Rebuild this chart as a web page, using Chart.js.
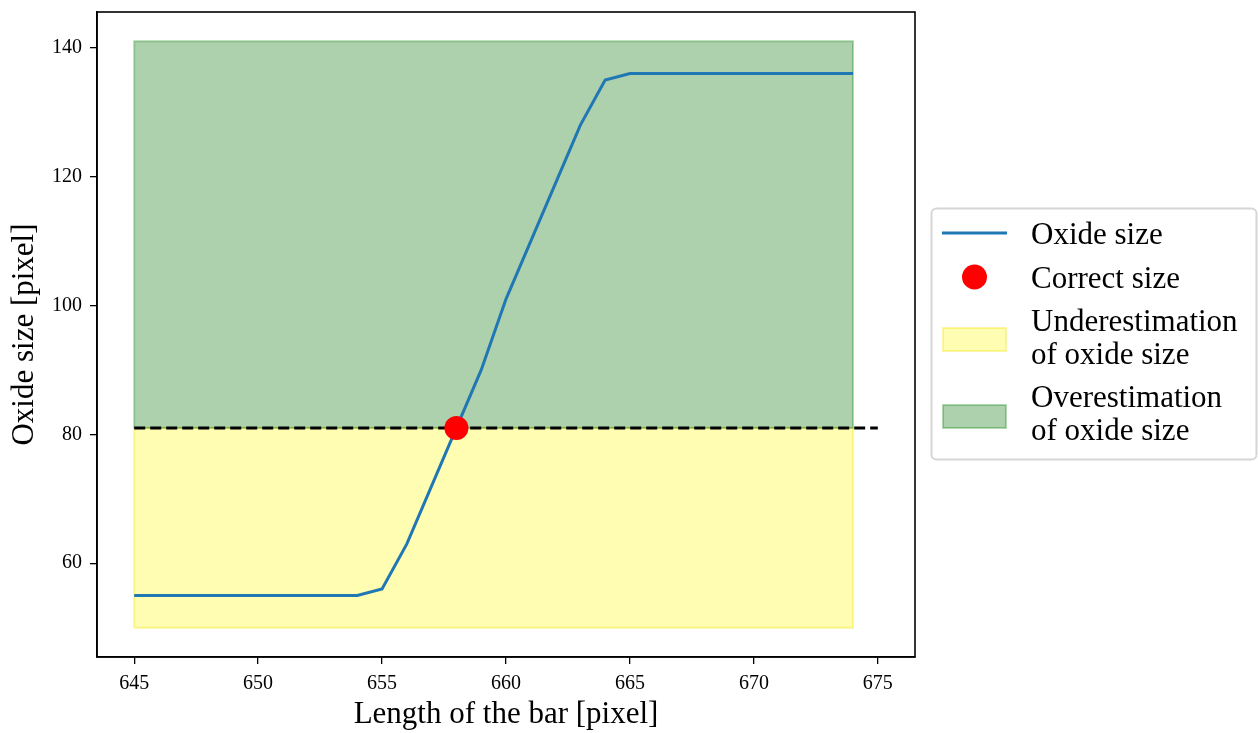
<!DOCTYPE html>
<html>
<head>
<meta charset="utf-8">
<script src="https://cdn.jsdelivr.net/npm/chart.js@4.4.0/dist/chart.umd.min.js"></script>
<style>
  html, body { margin: 0; padding: 0; background: #fff; }
  canvas { display: block; }
</style>
</head>
<body>
<canvas id="oxide" width="1258" height="733"></canvas>
<script>
// bar length sweep [pixel] and the measured oxide size for each
const barLength = [645, 646, 647, 648, 649, 650, 651, 652, 653, 654,
                   655, 656, 657, 658, 659, 660, 661, 662, 663, 664,
                   665, 666, 667, 668, 669, 670, 671, 672, 673, 674];
const oxideSize = [55, 55, 55, 55, 55, 55, 55, 55, 55, 55,
                   56, 63, 72, 81, 90, 101, 110, 119, 128, 135,
                   136, 136, 136, 136, 136, 136, 136, 136, 136, 136];

// reference size and where the curve crosses it
const correctLength = [658];
const correctSize = [81];
const refLength = [645, 675];
const refSize = [81, 81];

// shaded bands: [bottom, top] over bandLength
const bandLength = [645, 674];
const underBand = [50, 81];
const overBand = [81, 141];

const xTicks = [645, 650, 655, 660, 665, 670, 675];
const yTicks = [60, 80, 100, 120, 140];
const xRange = [643.5, 676.5];
const yRange = [45.45, 145.55];

const legendLabels = ['Oxide size', 'Correct size',
                      ['Underestimation', 'of oxide size'],
                      ['Overestimation', 'of oxide size']];

const serif = "'Liberation Serif', 'Times New Roman', serif";
const blue = '#1f77b4';
const yellowFill = 'rgba(255,250,0,0.3)';
const yellowEdge = 'rgba(240,230,0,0.35)';
const greenFill = 'rgba(0,110,0,0.32)';
const greenEdge = 'rgba(0,128,0,0.3)';

const pts = (xs, ys) => xs.map((x, i) => ({ x, y: ys[i] }));
const bandTop = b => pts(bandLength, [b[1], b[1]]);
const bandOutline = b => [
  { x: bandLength[0], y: b[0] }, { x: bandLength[0], y: b[1] },
  { x: bandLength[1], y: b[1] }, { x: bandLength[1], y: b[0] },
  { x: bandLength[0], y: b[0] }
];

const plain = { pointRadius: 0, pointHoverRadius: 0, tension: 0 };

const datasets = [
  { label: 'correct', data: pts(correctLength, correctSize), showLine: false,
    pointRadius: 12, pointHoverRadius: 12, backgroundColor: '#ff0000',
    borderWidth: 0, order: 0 },
  { ...plain, label: 'oxide', data: pts(barLength, oxideSize), showLine: true,
    borderColor: blue, borderWidth: 3, fill: false, order: 1 },
  { ...plain, label: 'ref', data: pts(refLength, refSize), showLine: true,
    borderColor: '#000', borderWidth: 3, borderDash: [11, 5], fill: false, order: 2 },
  { ...plain, label: 'over', data: bandTop(overBand), showLine: true,
    borderWidth: 0, backgroundColor: greenFill, fill: { value: overBand[0] }, order: 4 },
  { ...plain, label: 'overEdge', data: bandOutline(overBand), showLine: true,
    borderColor: greenEdge, borderWidth: 2, fill: false, order: 3 },
  { ...plain, label: 'under', data: bandTop(underBand), showLine: true,
    borderWidth: 0, backgroundColor: yellowFill, fill: { value: underBand[0] }, order: 6 },
  { ...plain, label: 'underEdge', data: bandOutline(underBand), showLine: true,
    borderColor: yellowEdge, borderWidth: 2, fill: false, order: 5 }
];

// black box around the plot area
const frame = {
  id: 'frame',
  afterDraw(chart) {
    const { ctx, chartArea: a } = chart;
    ctx.save();
    ctx.strokeStyle = '#000';
    ctx.lineWidth = 1.6;
    ctx.strokeRect(a.left, a.top, a.right - a.left, a.bottom - a.top);
    ctx.restore();
  }
};

// legend to the right of the axes, two-line labels allowed
const sideLegend = {
  id: 'sideLegend',
  afterDraw(chart) {
    const ctx = chart.ctx;
    ctx.save();
    ctx.beginPath();
    ctx.roundRect(931.5, 208.5, 325, 251, 5);
    ctx.fillStyle = '#fff';
    ctx.fill();
    ctx.strokeStyle = '#d6d6d6';
    ctx.lineWidth = 2;
    ctx.stroke();

    // handles
    ctx.strokeStyle = blue;
    ctx.lineWidth = 3;
    ctx.beginPath(); ctx.moveTo(942, 233); ctx.lineTo(1007, 233); ctx.stroke();

    ctx.fillStyle = '#ff0000';
    ctx.beginPath(); ctx.arc(974.5, 277, 12.5, 0, Math.PI * 2); ctx.fill();

    ctx.lineWidth = 2;
    ctx.fillStyle = yellowFill; ctx.strokeStyle = yellowEdge;
    ctx.fillRect(943, 328, 63, 23); ctx.strokeRect(943, 328, 63, 23);
    ctx.fillStyle = greenFill; ctx.strokeStyle = greenEdge;
    ctx.fillRect(943, 405, 63, 23); ctx.strokeRect(943, 405, 63, 23);

    // labels
    ctx.fillStyle = '#000';
    ctx.font = '31px ' + serif;
    ctx.textBaseline = 'alphabetic';
    ctx.textAlign = 'left';
    const baselines = [[244], [288], [331, 364], [407, 440]];
    legendLabels.forEach((lab, i) => {
      const lines = Array.isArray(lab) ? lab : [lab];
      lines.forEach((t, j) => ctx.fillText(t, 1031, baselines[i][j]));
    });
    ctx.restore();
  }
};

new Chart(document.getElementById('oxide'), {
  type: 'scatter',
  data: { datasets },
  options: {
    responsive: false,
    animation: false,
    events: [],
    layout: { padding: { left: 0, top: 11, right: 343, bottom: 0 } },
    plugins: { legend: { display: false }, tooltip: { enabled: false } },
    scales: {
      x: {
        type: 'linear', min: xRange[0], max: xRange[1],
        afterBuildTicks: s => { s.ticks = xTicks.map(v => ({ value: v })); },
        afterFit: s => { s.height = 76; s.paddingLeft = 0; s.paddingRight = 0; },
        grid: { drawOnChartArea: false, drawTicks: true, tickLength: 7, color: '#000', lineWidth: 1.3 },
        border: { display: true, color: '#000', width: 1.6 },
        ticks: { color: '#000', padding: 8, font: { family: serif, size: 20 }, maxRotation: 0 },
        title: { display: true, text: 'Length of the bar [pixel]', color: '#000',
                 font: { family: serif, size: 31 }, padding: { top: 0, bottom: 0 } }
      },
      y: {
        type: 'linear', min: yRange[0], max: yRange[1],
        afterBuildTicks: s => { s.ticks = yTicks.map(v => ({ value: v })); },
        afterFit: s => { s.width = 97; s.paddingTop = 0; s.paddingBottom = 0; },
        grid: { drawOnChartArea: false, drawTicks: true, tickLength: 7, color: '#000', lineWidth: 1.3 },
        border: { display: true, color: '#000', width: 1.6 },
        ticks: { color: '#000', padding: 8, font: { family: serif, size: 20 } },
        title: { display: true, text: 'Oxide size [pixel]', color: '#000',
                 font: { family: serif, size: 31 }, padding: { top: 6, bottom: 0 } }
      }
    }
  },
  plugins: [frame, sideLegend]
});
</script>
</body>
</html>
